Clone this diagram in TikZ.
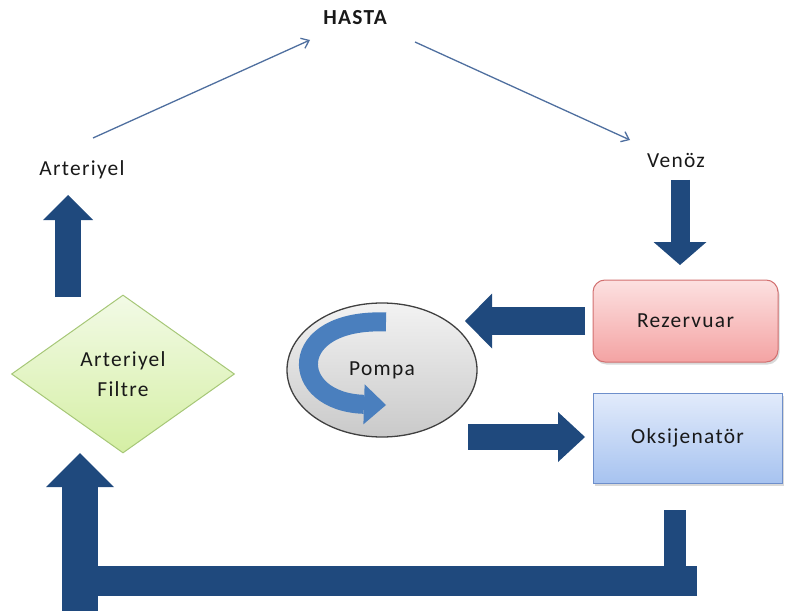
\documentclass[tikz,border=0pt]{standalone}
\usepackage{fontspec}
\setmainfont{Carlito}[LetterSpace=6]
\usetikzlibrary{positioning,shapes.geometric,arrows.meta,shadows}

\definecolor{fatblue}{HTML}{1F497D}
\definecolor{thinblue}{HTML}{4F6F9F}
\definecolor{pumpblue}{HTML}{4A7FBE}
\definecolor{reztop}{HTML}{FCE1E1}
\definecolor{rezbot}{HTML}{F4A3A3}
\definecolor{rezline}{HTML}{D27070}
\definecolor{okstop}{HTML}{E2EBFB}
\definecolor{oksbot}{HTML}{A7C3F0}
\definecolor{oksline}{HTML}{6E8FCB}
\definecolor{filtop}{HTML}{F2FAE6}
\definecolor{filbot}{HTML}{D5EFA4}
\definecolor{filline}{HTML}{A6C777}

\tikzset{
  fat arrow/.style n args={3}{draw=fatblue, line width=#1,
    -{Triangle[length=#3, width=#2, line width=0pt]}},
  fat bar/.style={draw=fatblue, line width=#1},
  thin arrow/.style={draw=thinblue, line width=1.3bp,
    -{Straight Barb[length=7bp, width=11bp]}},
  box shadow/.style={drop shadow={shadow xshift=1.5bp, shadow yshift=-2.5bp, opacity=.3}}
}

\begin{document}
\begin{tikzpicture}[x=1bp, y=-1bp, >=stealth,
  every node/.style={font=\fontsize{21.5}{30}\selectfont, text=black!90},
  rez box/.style={rectangle, rounded corners=12bp, draw=rezline, line width=1bp,
    top color=reztop, bottom color=rezbot, minimum width=185bp, minimum height=82bp, box shadow},
  oks box/.style={rectangle, draw=oksline, line width=1bp,
    top color=okstop, bottom color=oksbot, minimum width=189bp, minimum height=90bp, box shadow},
  pump/.style={ellipse, draw=black!75, line width=1.3bp,
    top color=gray!10, bottom color=gray!42, minimum width=190bp, minimum height=134bp},
  filter/.style={diamond, draw=filline, line width=1bp, inner sep=0pt, align=center,
    top color=filtop, bottom color=filbot, minimum width=223bp, minimum height=158bp},
  pump arrow/.style={draw=pumpblue, line width=19bp,
    -{Triangle[length=22bp, width=40bp, line width=0pt]}}]

\useasboundingbox (0,0) rectangle (786,611);

% labels round the patient
\node [anchor=base, font=\fontsize{21.5}{30}\selectfont\bfseries] (hasta) at (355,25) {HASTA};
\node [anchor=base] (arteriyel) at (82,176) {Arteriyel};
\node [anchor=base] (venoz) at (676,168) {Venöz};

% circuit parts
\node [rez box] (rezervuar) at (685.5,321) {Rezervuar};
\node [oks box] (oksijenator) at (687.5,438) {Oksijenatör};
\node [pump] (pompa) at (382,370) {Pompa};
\node [filter] (filtre) at (123,374) {Arteriyel\\Filtre};

% free ends of the connectors
\coordinate (art-out) at (93,138);
\coordinate (hasta-in) at (310,40);
\coordinate (hasta-out) at (415,42);
\coordinate (ven-in) at (630,140);
\coordinate (fil-out) at (68,297);
\coordinate (art-in) at (68,195);
\coordinate (ven-out) at (680,180);
\coordinate (rez-in) at (680,265);
\coordinate (rez-out) at (585,321);
\coordinate (pom-in) at (465,321);
\coordinate (pom-out) at (468,437);
\coordinate (oks-in) at (585,437);
\coordinate (oks-out) at (675,510);
\coordinate (corner-r) at (675,566);
\coordinate (ret-r) at (697,581);
\coordinate (ret-l) at (98,581);
\coordinate (ret-up) at (80,611);
\coordinate (fil-in) at (80,453);
\coordinate (pa-s) at (386,322);
\coordinate (pa-e) at (386,405);

\draw [thin arrow] (art-out) -- (hasta-in);
\draw [thin arrow] (hasta-out) -- (ven-in);

\foreach \a/\b/\w/\hw/\hl in {fil-out/art-in/26bp/50bp/25bp,
                             ven-out/rez-in/19bp/53bp/23bp,
                             rez-out/pom-in/28bp/55bp/27bp,
                             pom-out/oks-in/26bp/50bp/27bp,
                             ret-up/fil-in/36bp/68bp/34bp}
  \draw [fat arrow={\w}{\hw}{\hl}] (\a) -- (\b);

\draw [fat bar=22bp] (oks-out) -- (corner-r);
\draw [fat bar=30bp] (ret-r) -- (ret-l);

\draw [pump arrow] (pa-s) .. controls (285,318) and (288,402) .. (pa-e);

\end{tikzpicture}
\end{document}
